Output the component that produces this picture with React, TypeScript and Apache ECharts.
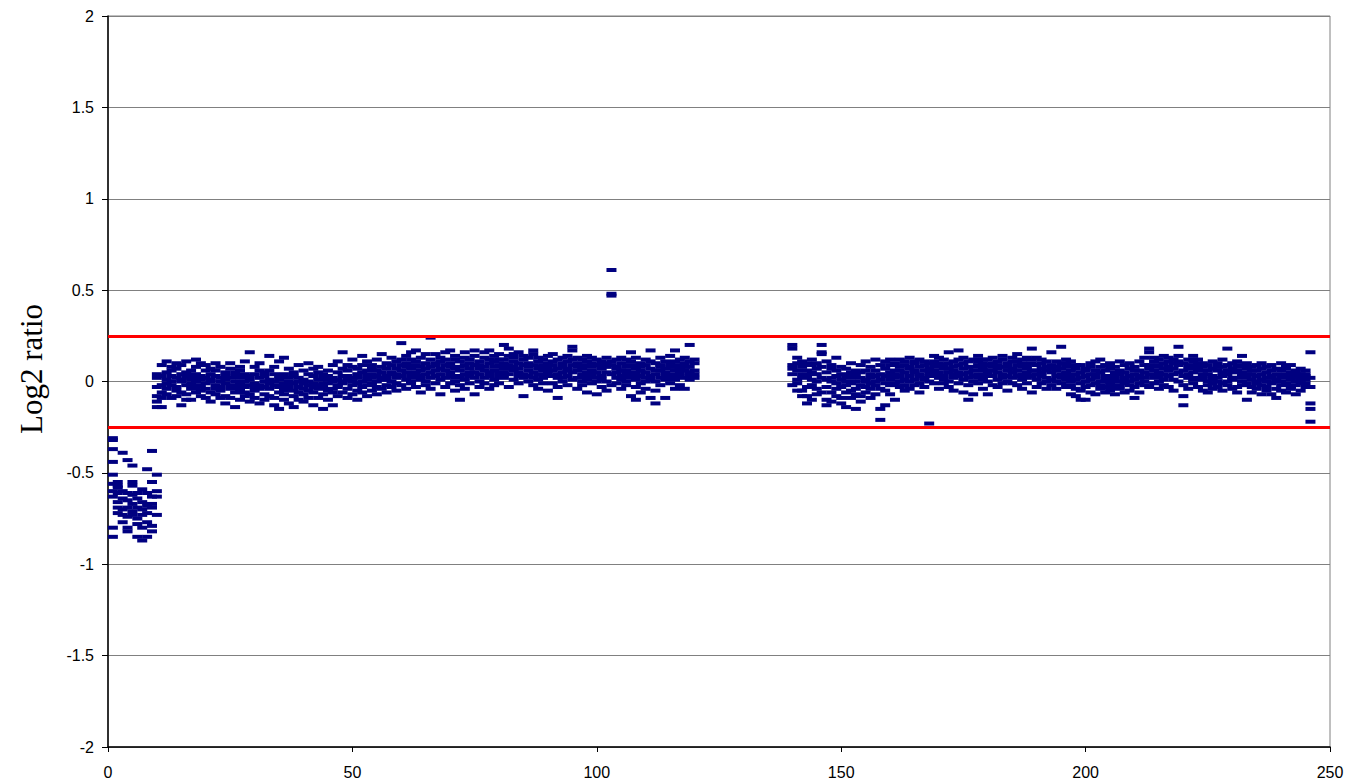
import React, { useEffect, useRef } from "react";
import * as echarts from "echarts";

// Log2 ratio values (x100), one string per Mb position, per segment
const delStart = 1;
const delValues = [
  "-31 -32 -37 -44 -51 -60 -63 -80 -85 -56",
  "-55 -57 -61 -69 -66 -72 -58",
  "-73 -77 -64 -60 -70 -39",
  "-43 -61 -69 -80 -82 -65 -74",
  "-46 -55 -57 -62 -67 -73 -71",
  "-61 -69 -85 -78 -64 -75",
  "-87 -80 -73 -66 -70 -59",
  "-48 -61 -77 -85 -68 -72",
  "-38 -55 -67 -69 -82 -79 -63",
  "-51 -63 -73 -60",
];

const pArmStart = 10;
const pArmValues = [
  "-3 -11 -14 4 -8 2", "9 -6 -14 -2 3 -9", "11 -4 1 -7 5 -1", "6 -2 -9 3 0 8",
  "2 -5 7 -3 10 -8", "-13 0 4 -6 9 1", "5 -2 -10 3 -7 11", "-10 1 6 -4 2 -1",
  "8 -3 0 12 -6 4", "3 -8 10 -2 1 -5", "-1 6 -9 2 -4 9", "4 -6 1 -11 7 0",
  "10 -2 -7 3 -4 6", "-5 2 8 -9 0 -3", "1 -8 5 -1 -12 3", "-4 7 -2 2 -9 10",
  "-14 0 5 -6 3 -3", "6 -10 -1 2 -5 8", "-3 4 -8 0 11 -6", "16 -2 3 -7 -11 1",
  "-5 8 -1 -9 4 -3", "2 -12 -4 6 -2 10", "-7 0 5 -3 -10 3", "14 -4 1 -8 -1 6",
  "-2 -9 4 -13 0 8", "-15 3 -6 1 -3 11", "13 -5 -1 -10 4 -7", "-4 2 -12 7 -2 0",
  "5 -8 -1 3 -14 -5", "-3 9 -6 0 -10 2", "1 -7 6 -4 -1 -11", "-9 4 -2 10 -5 0",
  "-1 -13 3 -6 7 -3", "8 -4 -9 1 -2 5", "-15 -3 2 -7 4 -1", "3 -10 -1 6 -5 1",
  "-13 2 -4 9 0 -6", "5 -2 11 -8 1 -3", "16 -1 3 -6 7 0", "-4 6 1 -9 3 9",
  "2 -7 8 -2 12 0", "-5 4 -1 7 -10 2", "14 0 5 -3 9 -6", "3 -8 6 1 -2 11",
  "-1 9 2 -5 4 7", "6 -3 12 0 -7 3", "15 2 -4 8 1 5", "-2 7 3 10 -6 1",
  "9 0 5 -3 13 4", "4 11 -1 7 2 -5", "21 6 -2 9 3 12", "8 1 14 -4 5 10",
  "3 12 -1 7 16 0", "17 5 9 -3 2 11", "6 -6 13 3 8 1", "10 4 15 -2 7 0",
  "24 8 2 12 -4 5", "15 6 -1 10 3 9", "4 13 -7 7 1 11", "9 2 16 -3 6 12",
  "17 5 -1 10 3 8", "2 12 -5 7 14 0", "-10 6 11 3 -2 8", "16 4 9 -4 1 13",
  "7 -1 12 3 10 5", "17 2 -7 9 5 14", "4 11 0 7 -3 9", "13 6 2 16 -1 8",
  "17 3 10 5 -4 12", "8 14 1 6 11 -2", "5 12 -1 9 15 3", "20 7 12 2 10 5",
  "18 9 4 14 -3 7", "11 6 15 1 8 13", "3 10 -1 7 16 5", "-8 9 4 12 2 14",
  "6 13 0 8 3 10", "17 15 5 -2 9 2", "4 11 7 -4 13 1", "9 2 12 6 -1 8",
  "5 14 -5 10 3 7", "15 3 9 -1 6 11", "-9 7 2 12 4 -3", "10 5 13 0 8 2",
  "3 11 -2 7 14 6", "19 17 5 9 1 12", "8 2 13 -4 6 10", "4 12 0 9 -2 7",
  "11 5 -6 3 14 1", "6 -1 10 4 8 13", "-7 9 2 12 5 0", "3 11 -3 7 1 9",
  "8 0 13 5 -5 10", "61 48 47 4 9 -2 11", "2 7 12 -1 5 8", "10 -4 6 1 13 3",
  "5 12 -2 8 0 6", "16 4 -8 9 2 11", "-10 7 1 13 -3 5", "6 -1 10 3 8 -6",
  "2 9 -4 12 5 0", "17 3 -9 7 11 1", "-12 6 0 10 4 -5", "8 2 13 -2 6 9",
  "-9 5 11 1 7 3", "4 10 -1 8 14 2", "17 6 1 11 -4 8", "3 12 5 -2 9 7",
  "-4 8 2 13 6 10", "20 5 11 1 8 3", "4 10 6 2 12",
];

const qArmStart = 140;
const qArmValues = [
  "20 18 9 4 -2 7", "13 -5 6 1 10 -1", "-5 8 2 -8 4 11", "-8 -12 3 10 -3 6",
  "9 -2 5 -10 1 12", "4 -7 10 0 -4 7", "20 16 15 2 -6 8", "-10 5 -3 11 1 -13",
  "7 -6 2 -11 9 0", "-4 13 3 -8 6 -1", "1 -9 8 -3 -12 4", "-6 3 -14 0 7 -2",
  "5 -5 -1 10 -9 2", "-15 0 6 -4 3 -7", "2 -8 9 -2 5 -11", "-3 6 0 -6 11 1",
  "8 -1 4 -9 2 -4", "-7 3 12 0 -2 6", "-21 -15 4 -4 9 1", "-13 7 -1 3 11 -5",
  "5 -2 9 1 -7 12", "-10 6 2 10 -1 4", "12 3 8 -3 6 0", "1 9 -2 5 11 -5",
  "7 0 13 3 -4 8", "10 -2 5 11 1 6", "3 8 -1 12 4 -6", "9 1 6 -3 11 2",
  "-23 5 10 0 7 3", "14 4 -1 9 6 11", "2 10 5 -4 8 13", "7 -1 12 3 9 1",
  "16 5 0 10 -3 7", "4 11 2 8 -5 6", "17 9 3 12 -1 5", "1 7 -6 10 4 13",
  "-10 5 11 2 8 -2", "8 -7 3 12 6 0", "14 4 9 -1 11 2", "6 10 1 7 -4 12",
  "12 -7 5 0 9 3", "3 8 13 -2 6 10", "9 1 5 11 -3 7", "-1 12 4 8 2 14",
  "6 0 10 3 -5 8", "11 5 -1 13 7 2", "15 3 9 -2 6 11", "1 8 12 4 -4 10",
  "7 13 -1 5 9 2", "18 6 10 -6 3 12", "4 9 1 13 6 -3", "10 -1 7 3 12 5",
  "2 11 6 -4 8 0", "16 5 9 1 -2 7", "-4 8 3 11 0 6", "19 10 2 -1 7 4",
  "5 12 -3 8 1 10", "-7 6 0 11 3 -2", "9 -4 4 1 7 -8", "-10 5 -1 9 2 -5",
  "-10 3 7 -3 0 6", "4 -6 10 1 -2 8", "-7 2 6 -1 11 4", "12 0 5 -4 8 -2",
  "3 9 -3 6 1 -6", "-1 7 2 -5 10 0", "5 -3 8 1 -7 3", "-2 6 0 11 -4 4",
  "9 1 -6 5 2 -1", "3 -5 7 -2 10 0", "-9 4 1 8 -3 6", "6 -1 11 3 -6 2",
  "2 9 -2 13 5 0", "18 16 4 -3 9 7", "11 2 6 13 -1 8", "5 12 0 9 3 -4",
  "14 4 10 1 7 -2", "3 11 6 -3 13 8", "10 1 7 12 4 -5", "19 14 5 9 0 11",
  "-8 -13 3 10 6 -2", "7 12 2 -4 9 4", "14 1 8 -1 11 5", "6 10 -3 7 2 12",
  "1 8 4 -5 10 3", "-6 6 0 9 -2 4", "3 -4 7 1 11 -1", "8 2 -3 6 0 10",
  "12 5 -1 8 3 -5", "18 4 9 0 6 -2", "2 7 -4 10 1 5", "-3 6 11 2 -6 8",
  "14 0 5 -2 9 3", "-10 4 7 -1 2 10", "6 -3 1 8 -6 4", "-1 9 3 -4 6 0",
  "4 -2 10 1 -7 7", "8 0 -5 5 2 -3", "-7 6 2 -1 9 3", "-9 1 7 -4 4 0",
  "10 3 -2 6 0 -5", "2 7 -6 4 -1 8", "-3 5 1 9 -4 2", "-7 6 0 3 -2 5",
  "4 -1 7 2 -5 1", "1 6 -3 3 -1 4", "16 -12 -15 -22 2 -3",
];

const thresholds = [0.25, -0.25];
const xTicks = { min: 0, max: 250, interval: 50 };
const yTicks = { min: -2, max: 2, interval: 0.5 };
const yTitle = "Log2 ratio";

function toPoints(start: number, rows: string[]): number[][] {
  const pts: number[][] = [];
  rows.forEach((row, i) => {
    row
      .trim()
      .split(/\s+/)
      .forEach((v) => pts.push([start + i, Number(v) / 100]));
  });
  return pts;
}

export default function App() {
  const ref = useRef<HTMLDivElement>(null);

  useEffect(() => {
    if (!ref.current) return;
    const chart = echarts.init(ref.current, undefined, { renderer: "svg" });
    const data = [
      ...toPoints(delStart, delValues),
      ...toPoints(pArmStart, pArmValues),
      ...toPoints(qArmStart, qArmValues),
    ];
    const axisFont = { fontFamily: "Liberation Sans, Arial, sans-serif", fontSize: 16, color: "#000" };
    chart.setOption({
      animation: false,
      backgroundColor: "#fff",
      grid: {
        left: 108,
        right: 18,
        top: 16,
        bottom: 37,
        show: true,
        borderColor: "#808080",
        borderWidth: 1,
        backgroundColor: "transparent",
      },
      graphic: [
        {
          type: "text",
          x: 31,
          y: 369,
          rotation: Math.PI / 2,
          style: {
            text: yTitle,
            fontFamily: "Liberation Serif, Times New Roman, serif",
            fontSize: 31,
            fill: "#000",
            align: "center",
            verticalAlign: "middle",
          },
        },
      ],
      xAxis: {
        type: "value",
        min: xTicks.min,
        max: xTicks.max,
        interval: xTicks.interval,
        axisLine: { show: true, onZero: false, lineStyle: { color: "#000", width: 1.5 } },
        axisTick: { show: true, length: 5, lineStyle: { color: "#000" } },
        axisLabel: { ...axisFont, margin: 17 },
        splitLine: { show: false },
      },
      yAxis: {
        type: "value",
        min: yTicks.min,
        max: yTicks.max,
        interval: yTicks.interval,
        axisLine: { show: true, onZero: false, lineStyle: { color: "#000", width: 1.5 } },
        axisTick: { show: true, length: 6, lineStyle: { color: "#000" } },
        axisLabel: { ...axisFont, margin: 14 },
        splitLine: { show: true, lineStyle: { color: "#808080", width: 1 } },
      },
      series: [
        {
          type: "scatter",
          data,
          symbol: "rect",
          symbolSize: [10, 4],
          itemStyle: { color: "#000080", opacity: 1 },
          silent: true,
          markLine: {
            silent: true,
            symbol: "none",
            label: { show: false },
            lineStyle: { color: "#ff0000", width: 3, type: "solid", opacity: 1 },
            data: thresholds.map((t) => ({ yAxis: t })),
          },
        },
      ],
    });
    return () => chart.dispose();
  }, []);

  return (
    <div
      ref={ref}
      style={{ position: "fixed", left: 0, top: 0, width: 1348, height: 784 }}
    />
  );
}
